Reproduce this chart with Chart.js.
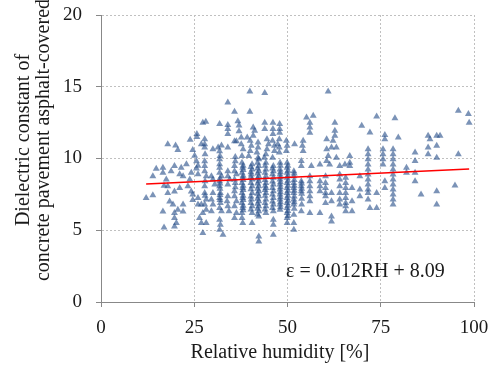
<!DOCTYPE html>
<html><head><meta charset="utf-8">
<script src="https://cdn.jsdelivr.net/npm/chart.js@4"></script>
<style>html,body{margin:0;padding:0;background:#fff}</style>
</head><body>
<canvas id="c" width="490" height="370"></canvas>
<script>
// ---- data (RH [%], dielectric constant) ----
const rhA = [14.8,13.9,16.6,16.6,12.1,13.9,16.9,16.9, 17.9,20.0,20.6,23.9,25.7,25.7,24.6,26.9,27.3, 18.8,19.7,21.5,22.9, 25.1,25.6,26.0,25.6,26.0, 24.2,23.8,22.0,21.1, 17.5,17.9,17.9,19.7,21.1,23.3,24.2,24.6, 18.4,19.3,20.6,19.7,19.7,20.2,19.7, 22.0,22.0,16.6, 24.6,26.0,26.0,26.9,27.3,26.4,26.9,27.3];
const epsA = [9.28,8.77,9.35,9.0,7.25,7.44,8.1,5.2, 11.0,10.9,10.6,11.3,11.7,11.5,10.6,11.0,12.5, 9.12,9.47,9.35,9.6, 10.2,9.8,9.5,9.3,8.9, 9.0,8.54,8.77,8.9, 8.54,8.07,7.6,7.7,7.95,8.07,7.7,7.5, 7.0,6.8,6.43,6.2,5.85,5.5,5.26, 6.8,6.3,6.3, 7.1,7.25,6.8,6.8,6.2,5.85,5.5,4.8];

const rhB = [34.0,35.8,28.1,31.8,34.0,34.0,34.0,36.7,37.0,37.0,
  27.8,27.8,27.8,30.0,31.4,32.3,31.8,34.0,35.8,36.3,37.6,37.6,38.1,
  27.8,27.8,27.8,28.2,29.6,30.0,30.5,
  31.8,31.8,31.8,31.8,32.3,31.8,31.8,
  34.0,34.0,34.5,34.0,35.8,35.8,36.3,35.8,
  27.8,27.8,28.2,27.8,28.2,30.0,29.6,30.0,29.6,
  32.0,31.8,32.0,31.8,32.3,34.0,33.8,34.0,34.3,
  35.8,35.8,36.3,35.8,36.3,35.8,31.8,32.0,31.8,28.2,32.7,
  37.8,37.8,38.0,37.8,38.0,37.8,38.0,37.8,38.0,37.8,38.0,37.8,37.8,38.0];
const epsB = [13.9,13.26,12.56,12.4,12.33,12.05,11.7,12.6,12.3,11.9,
  11.35,11.0,10.76,10.65,10.76,10.9,10.5,10.76,11.2,11.2,11.46,11.0,10.65,
  9.8,9.47,9.12,8.77,8.77,8.54,8.19,
  9.94,9.6,9.35,9.0,8.77,8.42,8.07,
  9.12,8.77,8.54,8.19,9.47,9.12,8.9,8.54,
  8.07,7.6,7.14,6.79,6.43,7.6,7.14,6.79,6.32,
  7.6,7.25,6.9,6.55,6.32,7.37,7.02,6.67,6.32,
  7.72,7.37,7.02,6.67,6.2,5.85,5.73,5.38,5.03,5.5,4.68,
  10.18,9.71,9.35,9.0,8.65,8.3,7.95,7.6,7.25,6.9,6.55,6.2,5.85,5.5];

const rhC = [39.9,43.9,39.9,40.8,41.2,40.8,43.9,43.9,46.1,46.1,46.1,47.9,47.9,
  39.2,40.0,40.3,40.0,39.6,42.1,42.1,41.8,42.1,
  44.5,44.9,44.5,44.2,43.8,46.0,46.5,46.5,46.0,47.8,47.4,47.8,47.8,
  40.5,40.5,40.3,40.5,40.5,40.5,40.3,40.5,40.5,40.5,
  42.3,42.3,42.3,42.3,42.3,42.3,42.3,42.3,42.3,42.3,42.3,42.3,42.3,42.3,
  44.2,44.2,44.2,44.2,44.2,44.2,44.2,44.2,44.2,
  46.2,46.2,46.2,46.2,46.2,46.2,46.2,46.2,46.2,46.2,46.2,
  48.0,48.0,48.0,48.0,48.0,48.0,48.0,48.0,48.0,48.0];
const epsC = [14.67,14.57,13.26,12.16,11.93,11.58,12.5,12.05,12.5,12.05,11.7,12.4,12.05,
  11.46,11.23,10.88,10.53,10.18,11.11,10.76,10.41,10.06,
  11.35,11.0,10.65,10.3,10.06,11.23,10.88,10.53,10.06,11.35,11.0,10.76,10.41,
  9.6,9.24,8.89,8.54,8.07,7.6,7.14,6.67,6.2,5.5,
  9.94,9.47,9.12,8.77,8.42,8.07,7.72,7.37,7.02,6.67,6.32,5.96,4.56,4.21,
  9.71,9.24,8.77,8.3,7.95,7.6,7.14,6.67,6.2,
  9.47,9.12,8.65,8.19,7.72,7.25,6.79,6.32,5.73,5.38,4.68,
  9.71,9.24,8.89,8.54,8.19,7.84,7.49,7.14,6.79,6.43];

const rhD = [55.1,56.9,47.9,56.0,56.0,56.0,49.7,49.9,49.7,51.9,54.2,54.0,54.2,
  53.7,53.7,56.4,58.7,
  49.9,49.9,49.9,49.9,49.9,49.9,49.9,49.9,49.9,49.9,49.9,49.9,49.9,
  51.7,51.7,51.7,51.7,51.7,51.7,51.7,51.7,51.7,51.7,
  53.7,53.7,53.7,53.7,58.7,58.7,58.7,58.7,
  56.0,56.0,56.0,56.0,56.0,56.0,56.0];
const epsD = [12.86,12.98,11.8,12.5,12.16,11.8,11.23,10.88,10.53,11.0,11.23,10.88,10.53,
  9.82,9.47,9.47,9.59,
  9.71,9.35,9.0,8.65,8.3,7.95,7.6,7.25,6.9,6.55,6.2,5.85,5.5,
  9.12,8.77,8.3,7.95,7.6,7.14,6.79,6.08,5.5,5.03,
  8.42,8.07,7.72,6.32,8.42,8.07,7.72,6.2,
  8.77,8.42,8.07,7.72,7.37,7.02,6.2];

const rhE = [60.9,62.7,62.7,62.7,69.9,60.5,62.2,61.8,63.1,60.5,
  60.9,60.5,61.3,63.1,66.7,66.7,66.7,65.4,64.0,69.4,
  71.6,71.6,71.6,71.6,71.6,71.6,71.6,71.6,71.6,71.6,71.6,
  60.2,60.2,60.2,60.2,60.2,60.2,61.8,61.8,61.8,61.8,
  64.0,64.0,64.0,64.0,64.0,64.0,
  65.6,65.6,65.6,65.6,65.6,65.6,65.6,65.6,
  67.3,67.3,67.3,69.4,69.4];
const epsE = [14.67,12.5,11.93,11.58,12.28,11.35,11.23,10.76,10.76,10.65,
  10.18,9.82,9.59,10.06,10.18,9.71,9.47,9.59,9.47,8.77,
  10.65,10.29,9.94,9.59,9.24,8.89,8.54,8.19,7.84,7.6,7.14,
  8.77,8.3,7.95,7.6,7.37,6.9,7.6,7.02,5.96,5.61,
  8.89,8.54,8.07,7.6,7.14,6.79,
  8.65,8.3,7.95,7.6,7.25,6.9,6.67,6.32,
  7.95,7.02,6.32,7.84,7.37];

const rhF = [73.9,78.8,72.1,76.1,76.1,79.7,73.9,72.1,73.9,
  75.6,75.6,75.6,75.6,76.1,76.1,
  78.3,78.3,78.3,78.3,78.3,78.3,78.3,78.3,78.3,78.3,78.3,78.3,
  81.9,81.9,84.2,84.2,84.2,84.2,85.8,
  95.8,98.5,98.7,87.7,88.2,90.0,90.9,87.7,90.0,87.7,90.0,95.8,90.0,94.9,90.0];
const epsF = [12.93,12.8,11.81,11.63,11.35,11.46,7.6,6.55,6.55,
  10.65,10.29,9.94,9.59,8.42,7.95,
  10.65,10.29,9.94,9.59,9.24,8.89,8.54,8.19,7.84,7.49,7.14,6.79,
  9.35,9.0,10.41,9.82,9.0,8.42,7.49,
  13.33,13.1,12.5,11.58,11.35,11.58,11.58,10.76,10.88,10.29,10.06,10.29,7.72,8.12,6.79];

// additional, partly hidden triangles in the dense columns (RH 28-54)
const rhG = [27.9,27.9,27.9,
  31.9,31.9,31.9,31.9,31.9,31.9,
  36.0,36.0,36.0,36.0,
  38.1,38.1,38.1,38.1,38.1,38.1,38.1,38.1,38.1,38.1,
  40.2,40.2,40.2,40.2,40.2,40.2,40.2,40.2,
  42.0,42.0,42.0,42.0,42.0,42.0,42.0,42.0,42.0,42.0,42.0,
  44.0,44.0,44.0,44.0,44.0,44.0,44.0,44.0,
  46.0,46.0,46.0,46.0,46.0,46.0,46.0,
  48.1,48.1,48.1,48.1,48.1,48.1,48.1,48.1,48.1,
  50.1,50.1,50.1,50.1,50.1,50.1,50.1,50.1,50.1,50.1,50.1,
  51.8,51.8,51.8,51.8,51.8,51.8,51.8,
  53.8,53.8,53.8,53.8,53.8];
const epsG = [10.3,8.42,7.4,
  10.18,8.6,8.25,7.9,7.45,7.1,
  10.1,9.8,8.3,8.0,
  9.5,9.2,8.8,8.5,8.1,7.8,7.4,7.1,6.7,6.4,
  9.4,9.05,8.7,8.3,7.85,7.35,6.9,6.45,
  9.7,9.3,8.95,8.6,8.25,7.9,7.55,7.2,6.85,6.5,6.1,
  9.5,9.0,8.5,8.1,7.8,7.4,6.9,6.45,
  9.3,8.9,8.4,7.95,7.5,7.0,6.55,
  9.5,9.05,8.7,8.35,8.0,7.65,7.3,6.95,6.6,
  9.5,9.15,8.8,8.45,8.1,7.75,7.4,7.05,6.7,6.35,6.0,
  8.95,8.5,8.1,7.75,7.35,6.95,6.5,
  8.25,7.9,7.55,7.2,6.8];

// trendline end points
const trendRH = [12.1, 98.7];
const trendEps = [8.23, 9.27];

const xTicks = [0, 25, 50, 75, 100];
const yTicks = [0, 5, 10, 15, 20];
const xTitle = 'Relative humidity [%]';
const yTitleLines = ['Dielectric constant of', 'concrete pavement asphalt-covered'];
const equationText = 'ε = 0.012RH + 8.09';

// ---- build ----
const groups = [[rhA,epsA],[rhB,epsB],[rhC,epsC],[rhD,epsD],[rhE,epsE],[rhF,epsF],[rhG,epsG]];
const points = [];
groups.forEach(([xs, ys]) => {
  const n = Math.min(xs.length, ys.length);
  for (let i = 0; i < n; i++) points.push({x: xs[i], y: ys[i]});
});
const trend = trendRH.map((v, i) => ({x: v, y: trendEps[i]}));

const FONT = "'Liberation Serif','Times New Roman',serif";
const TXT = '#1a1a1a';

const textPlugin = {
  id: 'texts',
  afterDraw(chart) {
    const ctx = chart.ctx;
    ctx.save();
    ctx.fillStyle = TXT;
    ctx.font = '20px ' + FONT;
    ctx.textAlign = 'center';
    ctx.textBaseline = 'middle';
    ctx.fillText(xTitle, 280, 353);
    ctx.save();
    ctx.translate(24, 140);
    ctx.rotate(-Math.PI / 2);
    ctx.fillText(yTitleLines[0], 0, 0);
    ctx.fillText(yTitleLines[1], 0, 20);
    ctx.restore();
    ctx.textAlign = 'left';
    ctx.textBaseline = 'alphabetic';
    ctx.fillText(equationText, 286, 277);
    ctx.restore();
  }
};

new Chart(document.getElementById('c'), {
  type: 'scatter',
  data: {
    datasets: [
      {
        type: 'line',
        data: trend,
        borderColor: '#ff0000',
        borderWidth: 1.5,
        pointRadius: 0,
        fill: false,
        order: 0
      },
      {
        data: points,
        pointStyle: 'triangle',
        pointRadius: 4,
        backgroundColor: 'rgba(35,75,135,0.6)',
        borderColor: 'rgba(35,75,135,0)',
        borderWidth: 0,
        order: 1
      }
    ]
  },
  options: {
    responsive: false,
    animation: false,
    devicePixelRatio: 1,
    layout: { autoPadding: false, padding: { left: 0, right: 16, top: 15, bottom: 0 } },
    plugins: { legend: { display: false }, tooltip: { enabled: false } },
    scales: {
      x: {
        type: 'linear', min: 0, max: 100,
        afterBuildTicks: s => { s.ticks = xTicks.map(v => ({value: v})); },
        afterFit: s => { s.height = 68; s.paddingLeft = 0; s.paddingRight = 0; },
        grid: { color: '#c0c0c0', drawTicks: true, tickLength: 5, tickColor: '#888', tickBorderDash: [] },
        border: { color: '#888', width: 1, dash: [2, 2] },
        ticks: { color: TXT, font: { family: FONT, size: 19 }, padding: 10, maxRotation: 0 }
      },
      y: {
        type: 'linear', min: 0, max: 20,
        afterBuildTicks: s => { s.ticks = yTicks.map(v => ({value: v})); },
        afterFit: s => { s.width = 101; s.paddingTop = 0; s.paddingBottom = 0; },
        grid: { color: '#c0c0c0', drawTicks: true, tickLength: 5, tickColor: '#888', tickBorderDash: [] },
        border: { color: '#888', width: 1, dash: [2, 2] },
        ticks: { color: TXT, font: { family: FONT, size: 19 }, padding: 14 }
      }
    }
  },
  plugins: [textPlugin]
});
</script>
</body></html>
